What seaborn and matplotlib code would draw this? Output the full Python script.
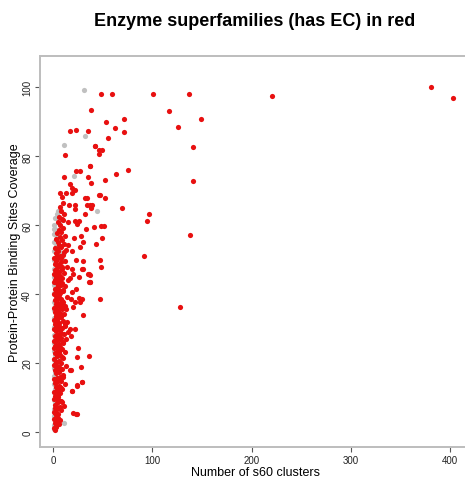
import matplotlib
matplotlib.use("Agg")
import matplotlib.pyplot as plt
import seaborn as sns
import pandas as pd

# Superfamilies without an EC number (grey)
noec_x = [1, 0.5, 2, 1, 3, 0.5, 2, 1, 4, 0.5, 2.5, 1, 3, 0.5, 2, 1, 4, 0.5, 2, 1,
          3, 0.5, 2, 1, 5, 0.5, 2, 1, 3, 0.5, 2, 1, 4, 0.5, 2, 1, 3, 0.5, 2, 1,
          4, 0.5, 3.7, 8.8, 7, 3, 1, 3.7, 0.5, 2, 1, 3.7, 5.4, 2, 6, 4, 1.5, 0.5,
          9, 6, 7, 5, 31.3, 32.6, 11.4, 21.5, 44, 11.4]
noec_y = [0.8, 2, 3.2, 4.5, 5.5, 6.8, 8, 9.2, 10.3, 11.5, 12.6, 13.8, 15, 16.2, 17.4, 18.6, 19.8, 21, 22.2, 23.4,
          24.6, 25.8, 27, 28.2, 29.4, 30.6, 31.8, 33, 34.2, 35.4, 36.6, 37.8, 39, 40.2, 41.4, 42.6, 43.8, 45, 46.2, 47.4,
          48.6, 49.8, 51.4, 50.2, 52.2, 54.1, 55, 56.5, 57.5, 58.9, 60, 63.2, 64.2, 62, 60.5, 53, 52.5, 59,
          26, 21, 15, 3, 99.1, 85.9, 83.2, 74.3, 64, 2.6]

# Enzyme superfamilies (has EC, red)
ec_x = [
    # dense column near zero clusters
    2, 1.5, 3, 2.5, 4, 1, 5, 3.5, 6, 2,
    1, 3, 5, 7, 2, 4, 9, 6, 1.5, 3.5, 11, 8,
    2, 5, 7, 1, 4, 9, 3, 6, 12, 2.5, 8, 5.5,
    1, 4, 7, 10, 3, 6, 2, 9, 5, 13, 1.5, 8,
    3, 6, 1, 10, 4, 7, 2, 12, 5, 9, 1.5, 7.5,
    3, 6, 10, 1, 4, 13, 8, 2, 5, 11, 15, 3.5, 7, 17, 1,
    9, 4, 12, 2, 6, 14, 10, 1.5, 5, 8, 3, 11, 6.5, 2,
    4, 9, 1, 7, 12, 3, 5.5, 10, 2, 8, 4.5, 14, 6,
    1, 3.5, 7, 10, 2, 5, 12, 8, 4, 1.5, 6, 15, 9,
    3, 7, 1, 11, 5, 2.5, 9, 4, 14, 6.5, 2, 8, 12,
    4, 1.5, 7, 10, 3, 5.5, 13, 2, 8, 6, 11,
    5, 9, 3, 7, 12, 4, 8, 6, 10,
    7, 5, 9, 6, 11, 8,
    10, 9,
    # second pass through the column
    3.2, 6.8, 4.6, 2.2, 8.4, 5.2, 3.8, 7.2, 2.6, 10.5,
    4.2, 6.2, 3.1, 8.8, 5.7, 2.4, 9.6, 4.9, 7.8, 3.3,
    6.1, 11.8, 4.4, 2.9, 8.1, 5.3, 13.5, 3.6, 7.1, 9.3,
    4.8, 2.7, 6.6, 10.2, 3.9, 5.1, 8.6, 2.3, 7.4, 4.1,
    6.3, 3.4, 9.1, 5.8, 2.8, 7.7, 4.3, 11.2, 3.7, 6.9,
    5.4, 8.3, 2.1, 4.7, 7.3, 3.0, 6.4, 9.8, 4.0, 5.6,
]
ec_x += [
    # spread of the column, 15-50 clusters
    28.6, 24.5, 29.6, 24.2, 19.5, 20.5, 24, 17.8, 22.2, 18.1, 36.6, 37.3,
    27.2, 28.9, 22.2, 20.5, 19.1, 20.5, 28.9, 30.6, 25.6, 36.4, 30.6, 23.2,
    26.3, 18.2, 17.2, 18.9, 29, 18.9, 23.2, 26.6, 17.2, 24.5, 30.6, 35.7, 36.7,
    23.2, 18.9, 27, 30.6, 15.5, 21.2, 28.3, 33.3, 24.6, 26.6, 21.9, 15.5, 9.8,
    32.3, 22.2, 22.5, 16.5, 7.1, 34, 37.4, 32.3, 34.6, 18.9, 22.5, 19.5, 13.1,
    7.1, 17.2, 11.4, 23.2, 27.3, 37.7, 35.7, 12.5, 42.7, 46.8, 17.5, 22.9, 35.7,
    # upper and right part
    48.5, 59.6, 100.3, 137.4, 38.7, 116.5, 53.5, 71.4, 149.5, 62.3, 71.4, 126.3,
    55.6, 42.4, 49.5, 46.5, 140.7, 37.7, 75.8, 63.6, 52.5, 38.4, 140.7, 46.5,
    47.5, 52.5, 39.7, 38, 69.7, 96.6, 94.6, 41.4, 48.5, 51.5, 49.5, 43.4, 137.7,
    91.6, 47.5, 48.5, 37.7, 37.7, 47.5, 127.6, 220.7, 381, 403,
]
ec_y = [
    0.5, 1.2, 1.8, 2.6, 3.1, 3.8, 4.2, 4.9, 2.2, 5.5,
    5.8, 6.4, 6.9, 7.2, 7.8, 8.3, 8.6, 9.1, 9.5, 9.9, 7.5, 6.3,
    10.4, 10.8, 11.2, 11.7, 12.1, 12.5, 13.0, 13.4, 13.8, 14.2, 14.7, 14.9,
    15.3, 15.8, 16.1, 16.5, 17.0, 17.4, 17.9, 18.3, 18.8, 19.1, 19.5, 19.9,
    20.3, 20.7, 21.1, 21.5, 22.0, 22.4, 22.8, 23.1, 23.6, 24.0, 24.4, 24.8,
    25.2, 25.6, 25.9, 26.3, 26.7, 27.0, 27.4, 27.8, 28.2, 28.5, 28.9, 29.2, 29.6, 29.9, 30.0,
    30.3, 30.6, 30.9, 31.2, 31.6, 31.9, 32.3, 32.6, 33.0, 33.3, 33.7, 34.1, 34.5, 34.9,
    35.2, 35.6, 36.0, 36.3, 36.7, 37.1, 37.5, 37.8, 38.2, 38.6, 39.0, 39.3, 39.7,
    40.1, 40.5, 40.9, 41.2, 41.6, 42.0, 42.3, 42.7, 43.1, 43.5, 43.9, 44.2, 44.6,
    45.0, 45.4, 45.8, 46.1, 46.5, 46.9, 47.3, 47.7, 48.0, 48.4, 48.8, 49.3, 49.7,
    50.2, 50.6, 51.0, 51.5, 52.0, 52.4, 52.8, 53.3, 53.7, 54.2, 54.6,
    55.1, 55.6, 56.0, 56.5, 57.0, 57.6, 58.1, 58.7, 59.2,
    60.2, 61.0, 61.8, 62.5, 63.3, 64.1,
    66.5, 68.2,
    1.5, 3.4, 5.1, 7.0, 8.9, 10.1, 11.9, 13.2, 14.5, 16.0,
    17.6, 18.9, 20.1, 21.8, 23.3, 24.9, 26.1, 27.5, 28.7, 29.5,
    30.8, 31.4, 32.1, 33.5, 34.3, 35.0, 35.8, 36.5, 37.2, 38.0,
    38.9, 39.5, 40.3, 41.0, 41.9, 42.5, 43.3, 44.0, 44.8, 45.6,
    46.3, 47.1, 47.9, 48.6, 49.5, 50.4, 51.2, 52.2, 53.0, 53.9,
    9.4, 12.8, 19.3, 24.1, 27.1, 31.0, 33.9, 36.9, 40.7, 43.7,
]
ec_y += [
    18.8, 21.7, 14.5, 13.7, 11.9, 5.5, 5.3, 17.9, 30.0, 28.0, 45.8, 43.4,
    37.7, 38.6, 37.6, 36.2, 40.6, 45.9, 47.3, 49.7, 24.5, 22.1, 34.0, 41.6,
    39.0, 38.6, 44.7, 47.2, 14.4, 11.8, 5.2, 45.1, 17.9, 13.4, 47.3, 45.8, 43.4,
    49.8, 52.6, 53.6, 55.2, 54.3, 56.4, 57.0, 59.0, 60.3, 61.3, 61.3, 60.8, 61.5,
    63.4, 64.8, 66.0, 65.9, 65.3, 65.9, 65.9, 68.0, 68.0, 70.8, 70.2, 69.4, 69.3,
    69.3, 72.1, 74.0, 75.8, 75.8, 77.3, 74.1, 80.5, 83.0, 81.7, 87.2, 87.6, 87.2,
    98.0, 98.2, 98.0, 98.2, 93.5, 93.2, 90.0, 90.9, 90.9, 88.3, 87.0, 88.5,
    85.2, 83.0, 81.7, 80.6, 82.7, 77.3, 76.1, 75.0, 73.1, 72.3, 72.8, 68.7,
    68.7, 67.8, 65.8, 65.1, 64.9, 63.3, 61.3, 59.5, 59.8, 59.9, 56.2, 54.5, 57.3,
    51.1, 49.8, 47.9, 45.6, 43.5, 38.6, 36.3, 97.5, 100.0, 96.8,
]

noec = pd.DataFrame({"clusters": noec_x, "coverage": noec_y})
ec = pd.DataFrame({"clusters": ec_x, "coverage": ec_y})

sns.set_style("white")
plt.rcParams["font.family"] = ["Liberation Sans", "DejaVu Sans"]
plt.rcParams["text.color"] = "black"
plt.rcParams["axes.labelcolor"] = "black"

fig = plt.figure(figsize=(4.65, 4.81), dpi=100)
ax = fig.add_axes([40 / 465, 33 / 481, 430 / 465, 391 / 481])

sns.scatterplot(data=noec, x="clusters", y="coverage", color="#c0c0c0",
                s=14, linewidth=0, ax=ax, zorder=2)
sns.scatterplot(data=ec, x="clusters", y="coverage", color="#e81010",
                s=14, linewidth=0, ax=ax, zorder=3)

ax.set_xlim(-13.1, 420)
ax.set_ylim(-4.35, 109.1)
ax.set_xticks([0, 100, 200, 300, 400])
ax.set_yticks([0, 20, 40, 60, 80, 100])

grey = "#bdbdbd"
for side in ["left", "bottom", "top", "right"]:
    ax.spines[side].set_color(grey)
    ax.spines[side].set_linewidth(1.4)

ax.tick_params(axis="both", which="both", direction="out", length=3.6,
               width=0.8, color="#555555", labelsize=7, labelcolor="#222222", pad=2)
ax.tick_params(axis="x", bottom=True)
ax.tick_params(axis="y", left=True)
plt.setp(ax.get_yticklabels(), rotation=90, va="center")

ax.set_xlabel("Number of s60 clusters", fontsize=9, labelpad=1)
ax.set_ylabel("Protein-Protein Binding Sites Coverage", fontsize=9, labelpad=1)
fig.text(255 / 465, 1 - 21 / 481, "Enzyme superfamilies (has EC) in red",
         ha="center", va="center", fontsize=13, fontweight="bold", color="black")

fig.savefig("out.png", dpi=100, facecolor="white")
